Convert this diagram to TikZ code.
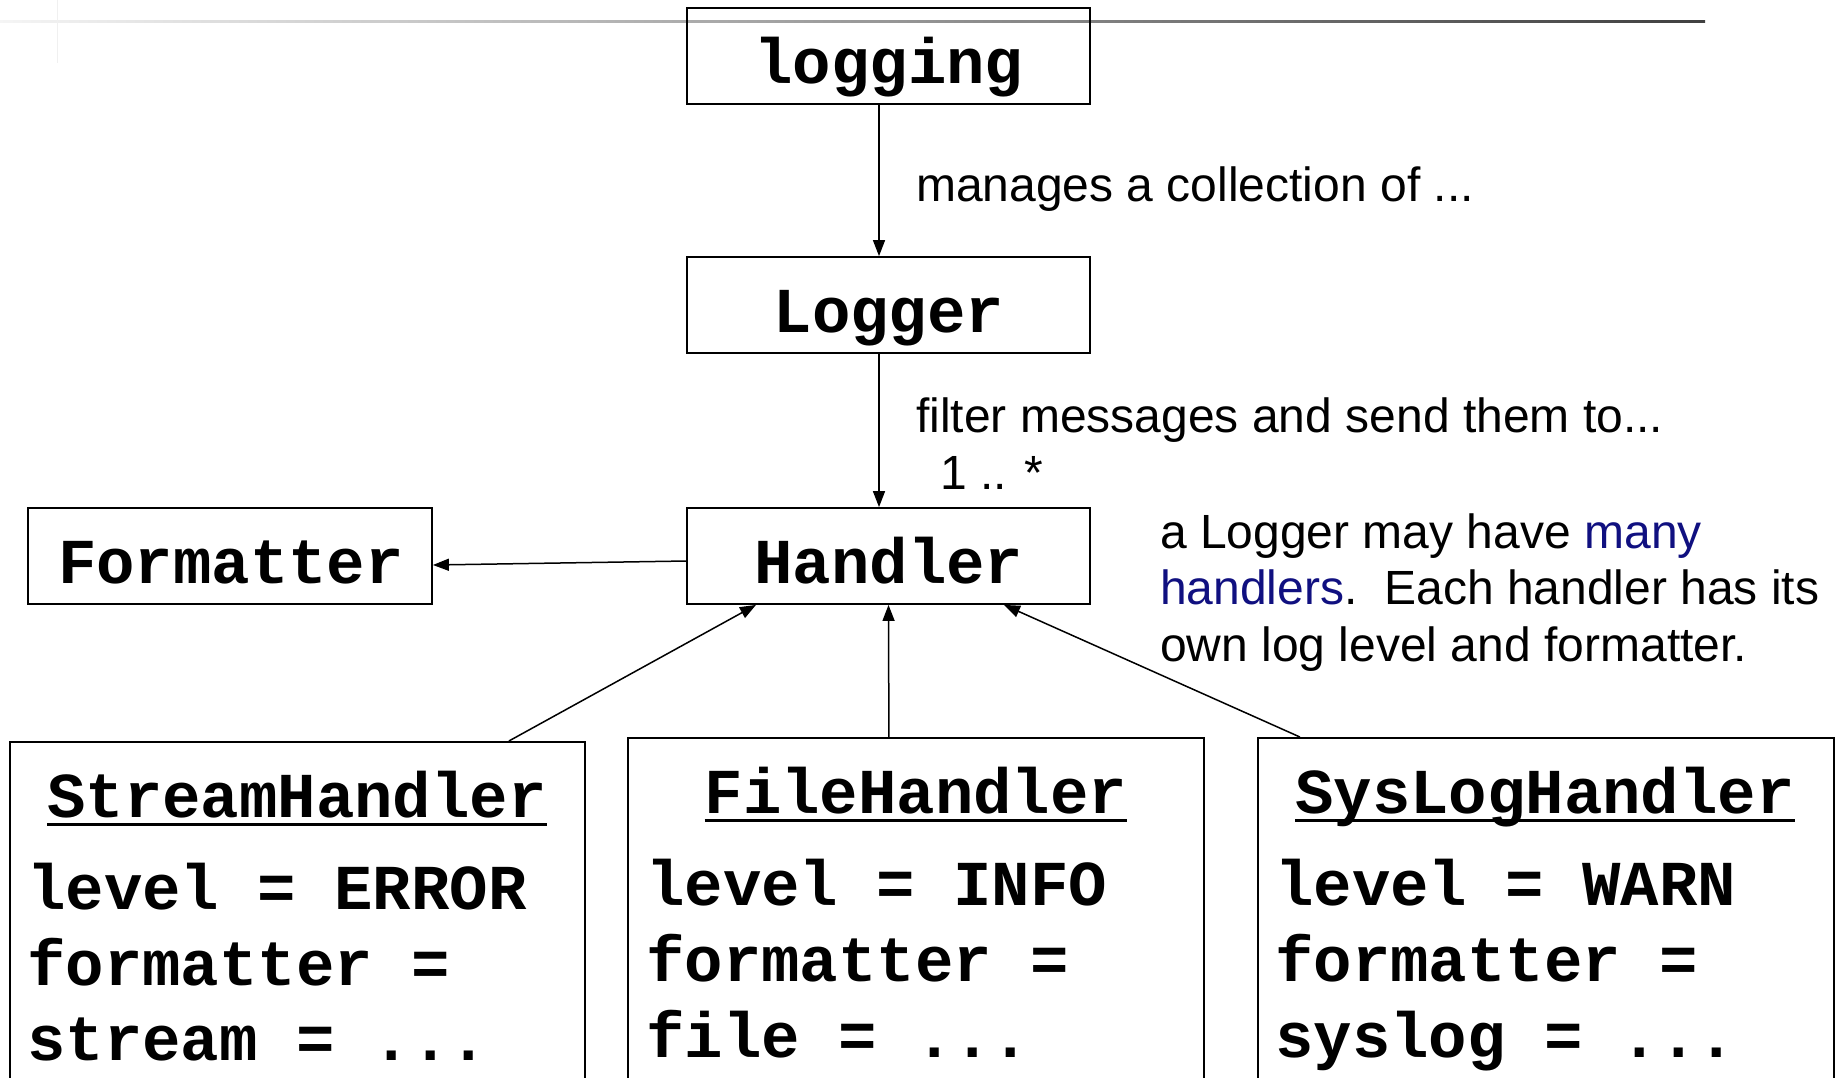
\documentclass[tikz,border=0pt]{standalone}
\usepackage{fontspec}
\setmainfont{Liberation Sans}
\setmonofont{Liberation Mono}
\usetikzlibrary{arrows.meta}
\definecolor{navyblue}{RGB}{16,16,128}
\begin{document}
\begin{tikzpicture}[x=1pt,y=-1pt,
  box/.style={draw=black, line width=1.8pt, minimum width=403pt, minimum height=96pt, inner sep=0pt},
  bigbox/.style={draw=black, line width=1.8pt, minimum width=575pt, minimum height=420pt, inner sep=0pt, anchor=north west},
  mono/.style={font=\fontsize{64}{76}\selectfont\ttfamily\bfseries, inner sep=0pt, anchor=base},
  attr/.style={mono, anchor=base west},
  sans/.style={font=\fontsize{48}{57}\selectfont, inner sep=0pt, anchor=base west},
  conn/.style={line width=1.5pt, -{Triangle[length=16pt,width=12pt]}},
  uline/.style={line width=3pt}
]
\useasboundingbox (0,0) rectangle (1835,1077);
\fill[white] (0,0) rectangle (1835,1077);
\clip (0,0) rectangle (1835,1077);

% header artefacts
\shade[left color=gray!8, right color=black!75] (0,20.5) rectangle (1705,22);
\draw[gray!12, line width=1pt] (57,0) -- (57,63);

% upper boxes
\node[box] (logging) at (888.5,56) {};
\node[mono] (loggingT) at (889,83) {logging};
\node[box] (logger) at (888.5,305) {};
\node[mono] (loggerT) at (889,332) {Logger};
\node[box] (handler) at (888.5,556) {};
\node[mono] (handlerT) at (889,583) {Handler};
\node[box, minimum width=404pt] (formatter) at (230,556) {};
\node[mono] (formatterT) at (231,583) {Formatter};

% labels
\node[sans] (lbl1) at (916,201) {manages a collection of ...};
\node[sans] (lbl2) at (916,432) {filter messages and send them to...};
\node[sans] (lbl3) at (940,489) {1 .. *};
\node[sans] (note1) at (1160,548) {a Logger may have \textcolor{navyblue}{many}};
\node[sans] (note2) at (1160,604) {\textcolor{navyblue}{handlers}.\ \ Each handler has its};
\node[sans] (note3) at (1160,661) {own log level and formatter.};

% lower boxes
\node[bigbox] (stream) at (9,741) {};
\node[mono] (streamT) at (297,817) {StreamHandler};
\draw[uline] ([yshift=-7pt]streamT.base west) -- ([yshift=-7pt]streamT.base east);
\node[attr] (streamA) at (27,909) {level = ERROR};
\node[attr] (streamB) at (27,985) {formatter =};
\node[attr] (streamC) at (27,1060) {stream = ...};

\node[bigbox, minimum width=576pt] (file) at (627,737) {};
\node[mono] (fileT) at (916,813) {FileHandler};
\draw[uline] ([yshift=-7pt]fileT.base west) -- ([yshift=-7pt]fileT.base east);
\node[attr] (fileA) at (646,905) {level = INFO};
\node[attr] (fileB) at (646,981) {formatter =};
\node[attr] (fileC) at (646,1057) {file = ...};

\node[bigbox, minimum width=576pt] (syslog) at (1257,737) {};
\node[mono] (syslogT) at (1545,813) {SysLogHandler};
\draw[uline] ([yshift=-7pt]syslogT.base west) -- ([yshift=-7pt]syslogT.base east);
\node[attr] (syslogA) at (1275,905) {level = WARN};
\node[attr] (syslogB) at (1275,981) {formatter =};
\node[attr] (syslogC) at (1275,1057) {syslog = ...};

% connectors
\draw[conn] ([xshift=-9.5pt]logging.south) -- ([xshift=-9.5pt]logger.north);
\draw[conn] ([xshift=-9.5pt]logger.south) -- ([xshift=-9.5pt]handler.north);
\draw[conn] ([yshift=-5pt]handler.west) -- ([yshift=-9pt]formatter.east);
\draw[conn] ([xshift=211.5pt]stream.north) -- ([xshift=-132.5pt]handler.south);
\draw[conn] ([xshift=-27pt]file.north) -- (handler.south);
\draw[conn] ([xshift=-246pt]syslog.north) -- ([xshift=115.5pt]handler.south);
\end{tikzpicture}
\end{document}
